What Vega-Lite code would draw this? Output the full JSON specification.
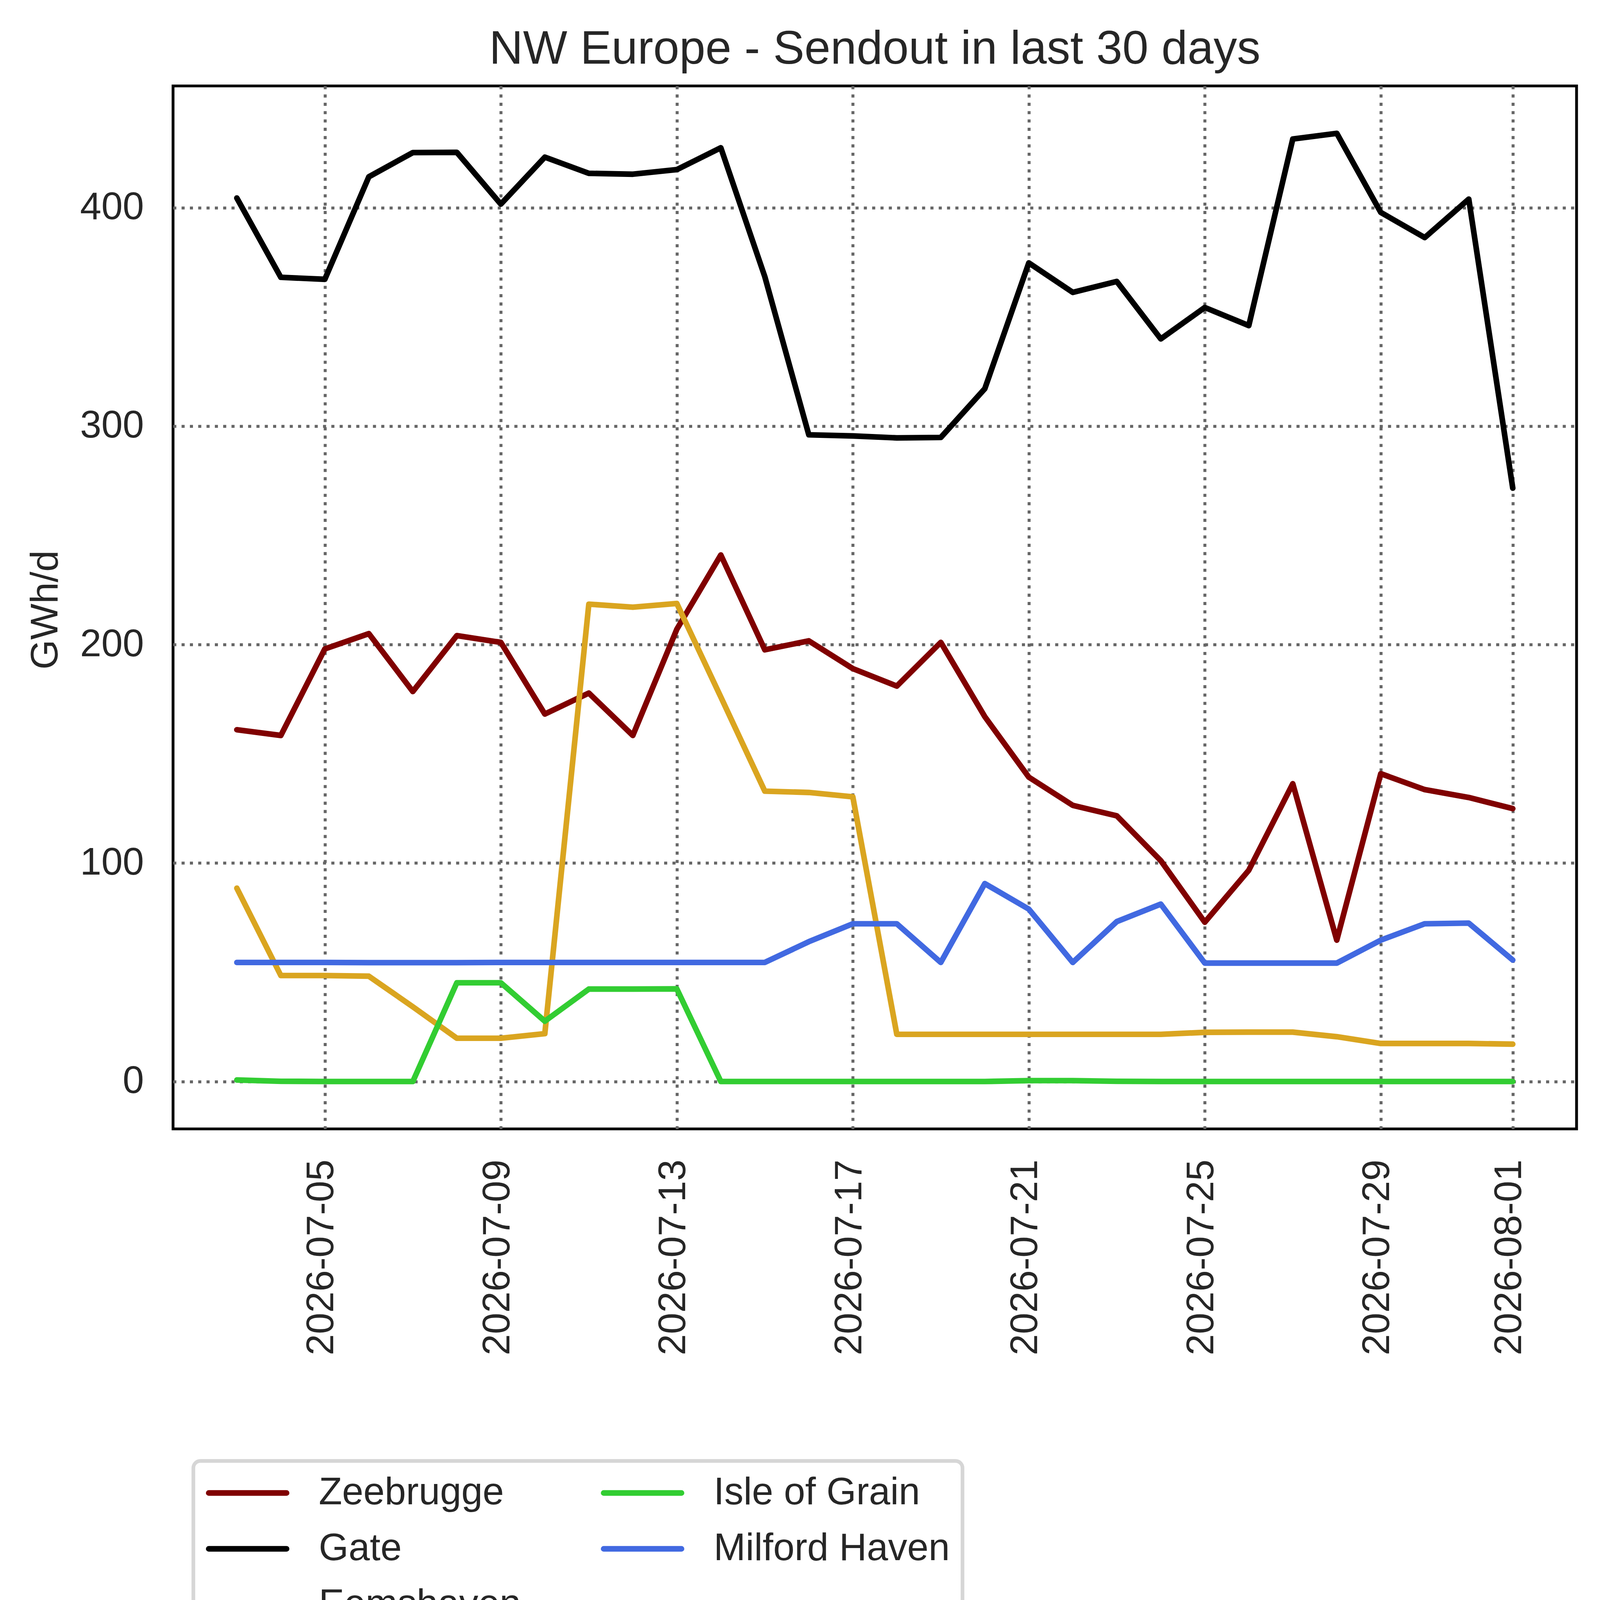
{
  "$schema": "https://vega.github.io/schema/vega-lite/v6.json",
  "width": 3593,
  "height": 2670,
  "autosize": {"type": "none"},
  "padding": {"left": 443, "top": 220, "right": 60, "bottom": 1381},
  "background": "white",
  "title": {
    "text": "NW Europe - Sendout in last 30 days",
    "fontSize": 120,
    "font": "Liberation Sans",
    "fontWeight": "normal",
    "color": "#262626",
    "anchor": "middle",
    "frame": "group",
    "baseline": "alphabetic",
    "offset": -63,
    "limit": 0
  },
  "config": {
    "font": "Liberation Sans",
    "view": {"stroke": "#000000", "strokeWidth": 7.2}
  },
  "data": {
    "values": [
      {"date": "2026-07-03", "terminal": "Zeebrugge", "gwh": 161.0},
      {"date": "2026-07-04", "terminal": "Zeebrugge", "gwh": 158.4},
      {"date": "2026-07-05", "terminal": "Zeebrugge", "gwh": 198.0},
      {"date": "2026-07-06", "terminal": "Zeebrugge", "gwh": 205.0},
      {"date": "2026-07-07", "terminal": "Zeebrugge", "gwh": 178.5},
      {"date": "2026-07-08", "terminal": "Zeebrugge", "gwh": 204.1},
      {"date": "2026-07-09", "terminal": "Zeebrugge", "gwh": 201.0},
      {"date": "2026-07-10", "terminal": "Zeebrugge", "gwh": 168.2},
      {"date": "2026-07-11", "terminal": "Zeebrugge", "gwh": 177.8},
      {"date": "2026-07-12", "terminal": "Zeebrugge", "gwh": 158.4},
      {"date": "2026-07-13", "terminal": "Zeebrugge", "gwh": 207.0},
      {"date": "2026-07-14", "terminal": "Zeebrugge", "gwh": 241.0},
      {"date": "2026-07-15", "terminal": "Zeebrugge", "gwh": 197.6},
      {"date": "2026-07-16", "terminal": "Zeebrugge", "gwh": 201.7},
      {"date": "2026-07-17", "terminal": "Zeebrugge", "gwh": 189.0},
      {"date": "2026-07-18", "terminal": "Zeebrugge", "gwh": 181.0},
      {"date": "2026-07-19", "terminal": "Zeebrugge", "gwh": 201.0},
      {"date": "2026-07-20", "terminal": "Zeebrugge", "gwh": 167.0},
      {"date": "2026-07-21", "terminal": "Zeebrugge", "gwh": 139.3},
      {"date": "2026-07-22", "terminal": "Zeebrugge", "gwh": 126.4},
      {"date": "2026-07-23", "terminal": "Zeebrugge", "gwh": 121.6},
      {"date": "2026-07-24", "terminal": "Zeebrugge", "gwh": 101.1},
      {"date": "2026-07-25", "terminal": "Zeebrugge", "gwh": 72.9},
      {"date": "2026-07-26", "terminal": "Zeebrugge", "gwh": 96.7},
      {"date": "2026-07-27", "terminal": "Zeebrugge", "gwh": 136.3},
      {"date": "2026-07-28", "terminal": "Zeebrugge", "gwh": 64.7},
      {"date": "2026-07-29", "terminal": "Zeebrugge", "gwh": 140.9},
      {"date": "2026-07-30", "terminal": "Zeebrugge", "gwh": 133.6},
      {"date": "2026-07-31", "terminal": "Zeebrugge", "gwh": 130.0},
      {"date": "2026-08-01", "terminal": "Zeebrugge", "gwh": 124.9},
      {"date": "2026-07-03", "terminal": "Gate", "gwh": 404.4},
      {"date": "2026-07-04", "terminal": "Gate", "gwh": 368.1},
      {"date": "2026-07-05", "terminal": "Gate", "gwh": 367.2},
      {"date": "2026-07-06", "terminal": "Gate", "gwh": 414.1},
      {"date": "2026-07-07", "terminal": "Gate", "gwh": 425.2},
      {"date": "2026-07-08", "terminal": "Gate", "gwh": 425.3},
      {"date": "2026-07-09", "terminal": "Gate", "gwh": 401.6},
      {"date": "2026-07-10", "terminal": "Gate", "gwh": 423.1},
      {"date": "2026-07-11", "terminal": "Gate", "gwh": 415.7},
      {"date": "2026-07-12", "terminal": "Gate", "gwh": 415.3},
      {"date": "2026-07-13", "terminal": "Gate", "gwh": 417.4},
      {"date": "2026-07-14", "terminal": "Gate", "gwh": 427.4},
      {"date": "2026-07-15", "terminal": "Gate", "gwh": 368.4},
      {"date": "2026-07-16", "terminal": "Gate", "gwh": 296.0},
      {"date": "2026-07-17", "terminal": "Gate", "gwh": 295.5},
      {"date": "2026-07-18", "terminal": "Gate", "gwh": 294.6},
      {"date": "2026-07-19", "terminal": "Gate", "gwh": 294.8},
      {"date": "2026-07-20", "terminal": "Gate", "gwh": 317.1},
      {"date": "2026-07-21", "terminal": "Gate", "gwh": 374.7},
      {"date": "2026-07-22", "terminal": "Gate", "gwh": 361.2},
      {"date": "2026-07-23", "terminal": "Gate", "gwh": 366.2},
      {"date": "2026-07-24", "terminal": "Gate", "gwh": 339.9},
      {"date": "2026-07-25", "terminal": "Gate", "gwh": 354.3},
      {"date": "2026-07-26", "terminal": "Gate", "gwh": 346.0},
      {"date": "2026-07-27", "terminal": "Gate", "gwh": 431.4},
      {"date": "2026-07-28", "terminal": "Gate", "gwh": 434.0},
      {"date": "2026-07-29", "terminal": "Gate", "gwh": 397.8},
      {"date": "2026-07-30", "terminal": "Gate", "gwh": 386.3},
      {"date": "2026-07-31", "terminal": "Gate", "gwh": 403.9},
      {"date": "2026-08-01", "terminal": "Gate", "gwh": 271.6},
      {"date": "2026-07-03", "terminal": "Eemshaven", "gwh": 88.5},
      {"date": "2026-07-04", "terminal": "Eemshaven", "gwh": 48.5},
      {"date": "2026-07-05", "terminal": "Eemshaven", "gwh": 48.5},
      {"date": "2026-07-06", "terminal": "Eemshaven", "gwh": 48.2},
      {"date": "2026-07-07", "terminal": "Eemshaven", "gwh": 34.2},
      {"date": "2026-07-08", "terminal": "Eemshaven", "gwh": 19.8},
      {"date": "2026-07-09", "terminal": "Eemshaven", "gwh": 19.8},
      {"date": "2026-07-10", "terminal": "Eemshaven", "gwh": 21.9},
      {"date": "2026-07-11", "terminal": "Eemshaven", "gwh": 218.5},
      {"date": "2026-07-12", "terminal": "Eemshaven", "gwh": 217.1},
      {"date": "2026-07-13", "terminal": "Eemshaven", "gwh": 218.8},
      {"date": "2026-07-14", "terminal": "Eemshaven", "gwh": 176.0},
      {"date": "2026-07-15", "terminal": "Eemshaven", "gwh": 132.9},
      {"date": "2026-07-16", "terminal": "Eemshaven", "gwh": 132.3},
      {"date": "2026-07-17", "terminal": "Eemshaven", "gwh": 130.3},
      {"date": "2026-07-18", "terminal": "Eemshaven", "gwh": 21.6},
      {"date": "2026-07-19", "terminal": "Eemshaven", "gwh": 21.6},
      {"date": "2026-07-20", "terminal": "Eemshaven", "gwh": 21.6},
      {"date": "2026-07-21", "terminal": "Eemshaven", "gwh": 21.6},
      {"date": "2026-07-22", "terminal": "Eemshaven", "gwh": 21.6},
      {"date": "2026-07-23", "terminal": "Eemshaven", "gwh": 21.6},
      {"date": "2026-07-24", "terminal": "Eemshaven", "gwh": 21.6},
      {"date": "2026-07-25", "terminal": "Eemshaven", "gwh": 22.5},
      {"date": "2026-07-26", "terminal": "Eemshaven", "gwh": 22.6},
      {"date": "2026-07-27", "terminal": "Eemshaven", "gwh": 22.6},
      {"date": "2026-07-28", "terminal": "Eemshaven", "gwh": 20.5},
      {"date": "2026-07-29", "terminal": "Eemshaven", "gwh": 17.4},
      {"date": "2026-07-30", "terminal": "Eemshaven", "gwh": 17.4},
      {"date": "2026-07-31", "terminal": "Eemshaven", "gwh": 17.4},
      {"date": "2026-08-01", "terminal": "Eemshaven", "gwh": 17.1},
      {"date": "2026-07-03", "terminal": "Isle of Grain", "gwh": 0.7},
      {"date": "2026-07-04", "terminal": "Isle of Grain", "gwh": 0.1},
      {"date": "2026-07-05", "terminal": "Isle of Grain", "gwh": 0.0},
      {"date": "2026-07-06", "terminal": "Isle of Grain", "gwh": 0.0},
      {"date": "2026-07-07", "terminal": "Isle of Grain", "gwh": 0.0},
      {"date": "2026-07-08", "terminal": "Isle of Grain", "gwh": 45.2},
      {"date": "2026-07-09", "terminal": "Isle of Grain", "gwh": 45.2},
      {"date": "2026-07-10", "terminal": "Isle of Grain", "gwh": 27.6},
      {"date": "2026-07-11", "terminal": "Isle of Grain", "gwh": 42.3},
      {"date": "2026-07-12", "terminal": "Isle of Grain", "gwh": 42.3},
      {"date": "2026-07-13", "terminal": "Isle of Grain", "gwh": 42.4},
      {"date": "2026-07-14", "terminal": "Isle of Grain", "gwh": 0.0},
      {"date": "2026-07-15", "terminal": "Isle of Grain", "gwh": 0.0},
      {"date": "2026-07-16", "terminal": "Isle of Grain", "gwh": 0.0},
      {"date": "2026-07-17", "terminal": "Isle of Grain", "gwh": 0.0},
      {"date": "2026-07-18", "terminal": "Isle of Grain", "gwh": 0.0},
      {"date": "2026-07-19", "terminal": "Isle of Grain", "gwh": 0.0},
      {"date": "2026-07-20", "terminal": "Isle of Grain", "gwh": 0.0},
      {"date": "2026-07-21", "terminal": "Isle of Grain", "gwh": 0.4},
      {"date": "2026-07-22", "terminal": "Isle of Grain", "gwh": 0.4},
      {"date": "2026-07-23", "terminal": "Isle of Grain", "gwh": 0.1},
      {"date": "2026-07-24", "terminal": "Isle of Grain", "gwh": 0.0},
      {"date": "2026-07-25", "terminal": "Isle of Grain", "gwh": 0.0},
      {"date": "2026-07-26", "terminal": "Isle of Grain", "gwh": 0.0},
      {"date": "2026-07-27", "terminal": "Isle of Grain", "gwh": 0.0},
      {"date": "2026-07-28", "terminal": "Isle of Grain", "gwh": 0.0},
      {"date": "2026-07-29", "terminal": "Isle of Grain", "gwh": 0.0},
      {"date": "2026-07-30", "terminal": "Isle of Grain", "gwh": 0.0},
      {"date": "2026-07-31", "terminal": "Isle of Grain", "gwh": 0.0},
      {"date": "2026-08-01", "terminal": "Isle of Grain", "gwh": 0.0},
      {"date": "2026-07-03", "terminal": "Milford Haven", "gwh": 54.5},
      {"date": "2026-07-04", "terminal": "Milford Haven", "gwh": 54.5},
      {"date": "2026-07-05", "terminal": "Milford Haven", "gwh": 54.5},
      {"date": "2026-07-06", "terminal": "Milford Haven", "gwh": 54.4},
      {"date": "2026-07-07", "terminal": "Milford Haven", "gwh": 54.4},
      {"date": "2026-07-08", "terminal": "Milford Haven", "gwh": 54.4},
      {"date": "2026-07-09", "terminal": "Milford Haven", "gwh": 54.5},
      {"date": "2026-07-10", "terminal": "Milford Haven", "gwh": 54.5},
      {"date": "2026-07-11", "terminal": "Milford Haven", "gwh": 54.5},
      {"date": "2026-07-12", "terminal": "Milford Haven", "gwh": 54.5},
      {"date": "2026-07-13", "terminal": "Milford Haven", "gwh": 54.5},
      {"date": "2026-07-14", "terminal": "Milford Haven", "gwh": 54.5},
      {"date": "2026-07-15", "terminal": "Milford Haven", "gwh": 54.5},
      {"date": "2026-07-16", "terminal": "Milford Haven", "gwh": 64.0},
      {"date": "2026-07-17", "terminal": "Milford Haven", "gwh": 72.2},
      {"date": "2026-07-18", "terminal": "Milford Haven", "gwh": 72.2},
      {"date": "2026-07-19", "terminal": "Milford Haven", "gwh": 54.5},
      {"date": "2026-07-20", "terminal": "Milford Haven", "gwh": 90.6},
      {"date": "2026-07-21", "terminal": "Milford Haven", "gwh": 78.9},
      {"date": "2026-07-22", "terminal": "Milford Haven", "gwh": 54.5},
      {"date": "2026-07-23", "terminal": "Milford Haven", "gwh": 73.2},
      {"date": "2026-07-24", "terminal": "Milford Haven", "gwh": 81.2},
      {"date": "2026-07-25", "terminal": "Milford Haven", "gwh": 54.2},
      {"date": "2026-07-26", "terminal": "Milford Haven", "gwh": 54.2},
      {"date": "2026-07-27", "terminal": "Milford Haven", "gwh": 54.2},
      {"date": "2026-07-28", "terminal": "Milford Haven", "gwh": 54.2},
      {"date": "2026-07-29", "terminal": "Milford Haven", "gwh": 64.7},
      {"date": "2026-07-30", "terminal": "Milford Haven", "gwh": 72.2},
      {"date": "2026-07-31", "terminal": "Milford Haven", "gwh": 72.5},
      {"date": "2026-08-01", "terminal": "Milford Haven", "gwh": 55.6}
    ]
  },
  "mark": {"type": "line", "strokeWidth": 14.4, "strokeCap": "round", "strokeJoin": "round"},
  "encoding": {
    "x": {
      "field": "date",
      "type": "temporal",
      "scale": {
        "type": "utc",
        "domain": [
          {"year": 2026, "month": 7, "date": 1, "hours": 13, "minutes": 12, "utc": true},
          {"year": 2026, "month": 8, "date": 2, "hours": 10, "minutes": 48, "utc": true}
        ]
      },
      "axis": {
        "title": null,
        "values": [
          {"year": 2026, "month": 7, "date": 5, "utc": true},
          {"year": 2026, "month": 7, "date": 9, "utc": true},
          {"year": 2026, "month": 7, "date": 13, "utc": true},
          {"year": 2026, "month": 7, "date": 17, "utc": true},
          {"year": 2026, "month": 7, "date": 21, "utc": true},
          {"year": 2026, "month": 7, "date": 25, "utc": true},
          {"year": 2026, "month": 7, "date": 29, "utc": true},
          {"year": 2026, "month": 8, "date": 1, "utc": true}
        ],
        "format": "%Y-%m-%d",
        "labelAngle": -90,
        "labelFont": "Liberation Sans",
        "labelFontSize": 98,
        "labelColor": "#262626",
        "labelPadding": 78,
        "labelOffset": -8,
        "labelLimit": 3000,
        "labelOverlap": false,
        "labelFlush": false,
        "ticks": false,
        "tickSize": 0,
        "domain": false,
        "grid": true,
        "gridColor": "#666666",
        "gridWidth": 7.6,
        "gridDash": [7.9, 13.4],
        "gridOpacity": 1
      }
    },
    "y": {
      "field": "gwh",
      "type": "quantitative",
      "scale": {"domain": [-21.7, 455.7], "nice": false, "zero": false},
      "axis": {
        "title": "GWh/d",
        "titleFont": "Liberation Sans",
        "titleFontSize": 98,
        "titleFontWeight": "normal",
        "titleColor": "#262626",
        "titleX": -297,
        "titleY": 1341,
        "titleAngle": -90,
        "titleAlign": "center",
        "titleBaseline": "alphabetic",
        "titleLimit": 3000,
        "values": [0, 100, 200, 300, 400],
        "labelFont": "Liberation Sans",
        "labelFontSize": 98,
        "labelColor": "#262626",
        "labelPadding": 75,
        "labelLimit": 3000,
        "ticks": false,
        "tickSize": 0,
        "domain": false,
        "grid": true,
        "gridColor": "#666666",
        "gridWidth": 7.6,
        "gridDash": [7.9, 13.4],
        "gridOpacity": 1
      }
    },
    "color": {
      "field": "terminal",
      "type": "nominal",
      "scale": {
        "domain": ["Zeebrugge", "Gate", "Eemshaven", "Isle of Grain", "Milford Haven"],
        "range": ["#800000", "#000000", "#daa520", "#32cd32", "#4169e1"]
      },
      "legend": {
        "title": null,
        "orient": "none",
        "legendX": 52,
        "legendY": 3520,
        "columns": 2,
        "symbolType": "stroke",
        "symbolSize": 39720,
        "symbolStrokeWidth": 14.4,
        "clipHeight": 100,
        "labelFont": "Liberation Sans",
        "labelFontSize": 98,
        "labelColor": "#262626",
        "labelLimit": 3000,
        "labelOffset": 75,
        "rowPadding": 43,
        "columnPadding": 204,
        "padding": 32,
        "strokeColor": "#d6d6d6",
        "cornerRadius": 18,
        "fillColor": "#ffffff",
        "encode": {
          "legend": {"update": {"strokeWidth": {"value": 9.4}}},
          "symbols": {"update": {"strokeCap": {"value": "round"}}}
        }
      }
    }
  }
}
